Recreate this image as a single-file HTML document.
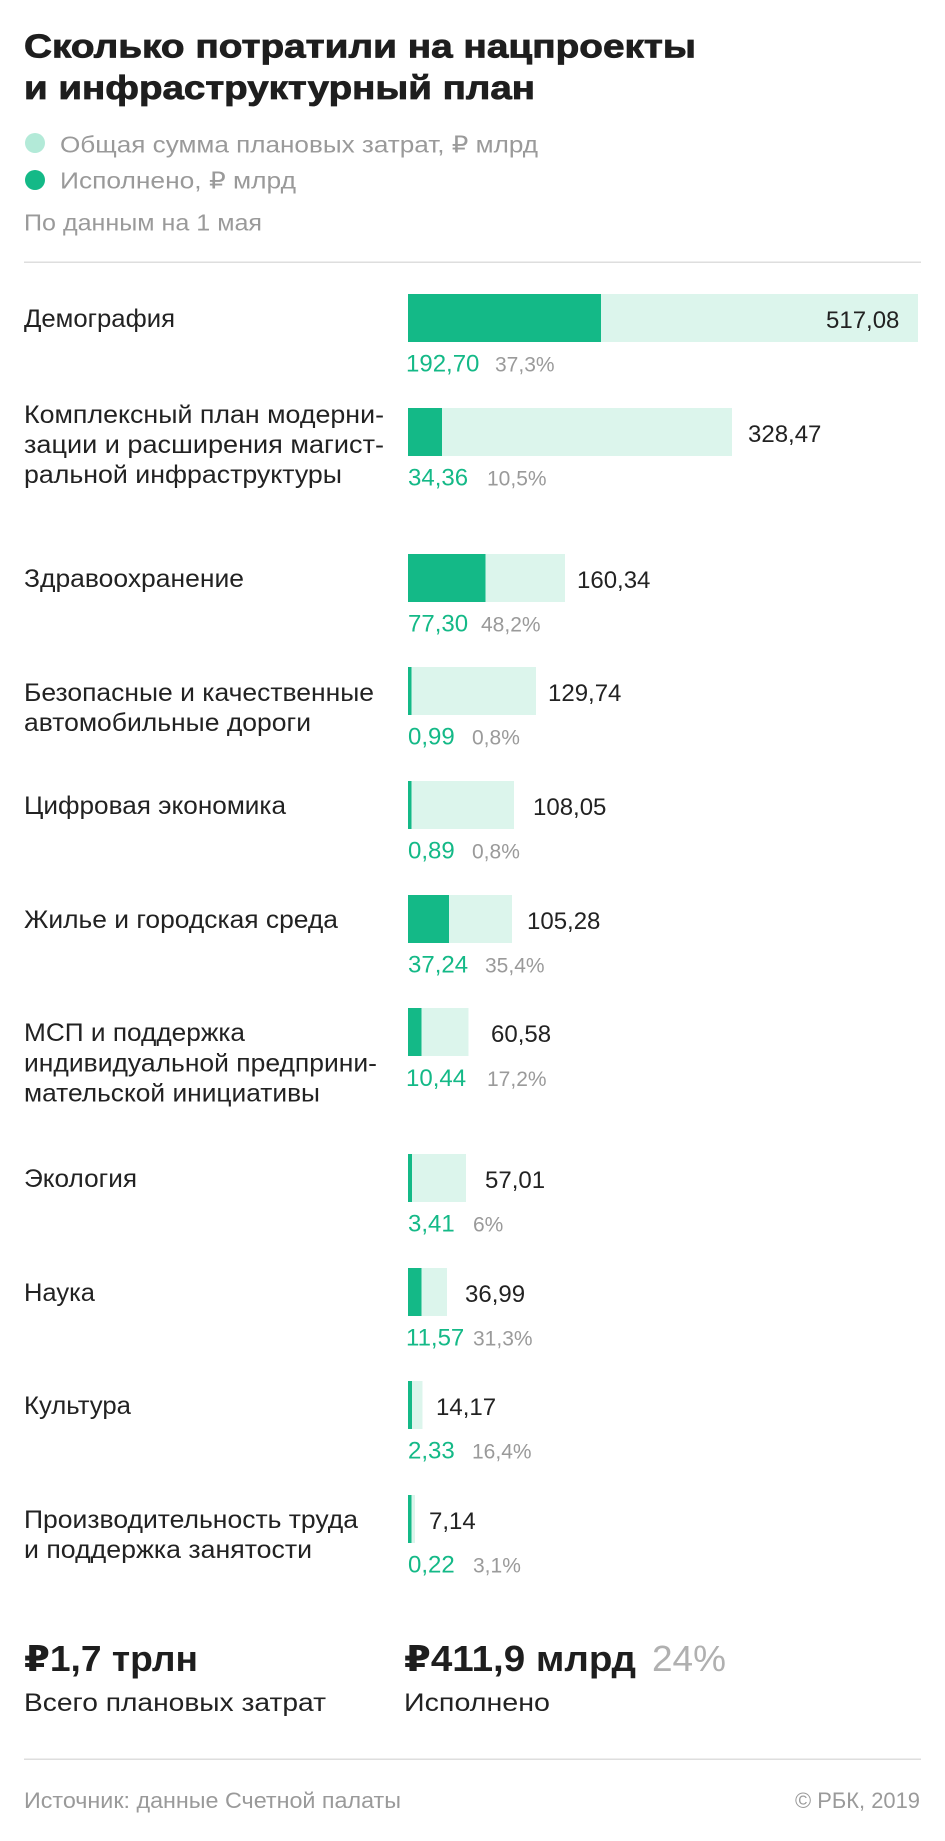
<!DOCTYPE html>
<html><head><meta charset="utf-8"><style>
html,body{margin:0;padding:0;background:#fff;}
svg{display:block;}
text{font-family:"Liberation Sans","DejaVu Sans",sans-serif;}
.t{font-size:33px;font-weight:bold;fill:#1e1e1e;stroke:#1e1e1e;stroke-width:0.8px;}
.lg{font-size:23px;fill:#9a9a9a;}
.lb{font-size:25px;fill:#222;}
.v{font-size:24px;fill:#222;}
.g{font-size:24px;fill:#14b987;}
.p{font-size:21px;fill:#9a9a9a;}
.b{font-size:36px;font-weight:bold;fill:#1e1e1e;}
.pc{font-size:36px;fill:#b0b0b0;}
.s{font-size:25px;fill:#222;}
.f{font-size:22px;fill:#9a9a9a;}
</style></head><body>
<svg width="945" height="1841" viewBox="0 0 945 1841" xmlns="http://www.w3.org/2000/svg">
<rect width="945" height="1841" fill="#fff"/>
<text class="t" x="24" y="57.5" textLength="672" lengthAdjust="spacingAndGlyphs">Сколько потратили на нацпроекты</text>
<text class="t" x="24" y="99" textLength="511" lengthAdjust="spacingAndGlyphs">и инфраструктурный план</text>
<circle cx="35" cy="143" r="10" fill="#b3ead8"/>
<text class="lg" x="60" y="152.5" textLength="478" lengthAdjust="spacingAndGlyphs">Общая сумма плановых затрат, ₽ млрд</text>
<circle cx="35" cy="180" r="10" fill="#14b987"/>
<text class="lg" x="60" y="188.5" textLength="236" lengthAdjust="spacingAndGlyphs">Исполнено, ₽ млрд</text>
<text class="lg" x="24" y="230.5" textLength="238" lengthAdjust="spacingAndGlyphs">По данным на 1 мая</text>
<rect x="24" y="261.5" width="897" height="1.5" fill="#dedede"/>

<!-- bars -->
<g fill="#dcf5ec">
<rect x="408" y="294" width="510" height="48"/>
<rect x="408" y="408" width="324" height="48"/>
<rect x="408" y="554" width="157" height="48"/>
<rect x="408" y="667" width="128" height="48"/>
<rect x="408" y="781" width="106" height="48"/>
<rect x="408" y="895" width="104" height="48"/>
<rect x="408" y="1008" width="60.5" height="48"/>
<rect x="408" y="1154" width="58" height="48"/>
<rect x="408" y="1268" width="39" height="48"/>
<rect x="408" y="1381" width="14.5" height="48"/>
<rect x="408" y="1495" width="7" height="48"/>
</g>
<g fill="#14b987">
<rect x="408" y="294" width="193" height="48"/>
<rect x="408" y="408" width="34" height="48"/>
<rect x="408" y="554" width="77.5" height="48"/>
<rect x="408" y="667" width="3.5" height="48"/>
<rect x="408" y="781" width="3.5" height="48"/>
<rect x="408" y="895" width="41" height="48"/>
<rect x="408" y="1008" width="13.5" height="48"/>
<rect x="408" y="1154" width="4" height="48"/>
<rect x="408" y="1268" width="13.5" height="48"/>
<rect x="408" y="1381" width="4" height="48"/>
<rect x="408" y="1495" width="3.5" height="48"/>
</g>

<!-- labels -->
<text class="lb" x="24" y="327" textLength="151" lengthAdjust="spacingAndGlyphs">Демография</text>
<text class="lb" x="24" y="423" textLength="360" lengthAdjust="spacingAndGlyphs">Комплексный план модерни-</text>
<text class="lb" x="24" y="453" textLength="360" lengthAdjust="spacingAndGlyphs">зации и расширения магист-</text>
<text class="lb" x="24" y="483" textLength="318" lengthAdjust="spacingAndGlyphs">ральной инфраструктуры</text>
<text class="lb" x="24" y="587" textLength="220" lengthAdjust="spacingAndGlyphs">Здравоохранение</text>
<text class="lb" x="24" y="701" textLength="350" lengthAdjust="spacingAndGlyphs">Безопасные и качественные</text>
<text class="lb" x="24" y="731" textLength="287" lengthAdjust="spacingAndGlyphs">автомобильные дороги</text>
<text class="lb" x="24" y="814" textLength="262" lengthAdjust="spacingAndGlyphs">Цифровая экономика</text>
<text class="lb" x="24" y="928" textLength="314" lengthAdjust="spacingAndGlyphs">Жилье и городская среда</text>
<text class="lb" x="24" y="1041" textLength="221" lengthAdjust="spacingAndGlyphs">МСП и поддержка</text>
<text class="lb" x="24" y="1071.5" textLength="353" lengthAdjust="spacingAndGlyphs">индивидуальной предприни-</text>
<text class="lb" x="24" y="1101.5" textLength="296" lengthAdjust="spacingAndGlyphs">мательской инициативы</text>
<text class="lb" x="24" y="1187" textLength="113" lengthAdjust="spacingAndGlyphs">Экология</text>
<text class="lb" x="24" y="1301" textLength="71" lengthAdjust="spacingAndGlyphs">Наука</text>
<text class="lb" x="24" y="1414" textLength="107" lengthAdjust="spacingAndGlyphs">Культура</text>
<text class="lb" x="24" y="1528" textLength="334" lengthAdjust="spacingAndGlyphs">Производительность труда</text>
<text class="lb" x="24" y="1558" textLength="288" lengthAdjust="spacingAndGlyphs">и поддержка занятости</text>

<!-- totals -->
<text class="v" x="826" y="328">517,08</text>
<text class="v" x="748" y="442">328,47</text>
<text class="v" x="577" y="588">160,34</text>
<text class="v" x="548" y="701">129,74</text>
<text class="v" x="533" y="815">108,05</text>
<text class="v" x="527" y="929">105,28</text>
<text class="v" x="491" y="1042">60,58</text>
<text class="v" x="485" y="1188">57,01</text>
<text class="v" x="465" y="1302">36,99</text>
<text class="v" x="436" y="1415">14,17</text>
<text class="v" x="429" y="1529">7,14</text>

<!-- executed -->
<text class="g" x="406" y="371.5">192,70</text><text class="p" x="495" y="371.5">37,3%</text>
<text class="g" x="408" y="485.5">34,36</text><text class="p" x="487" y="485.5">10,5%</text>
<text class="g" x="408" y="631.5">77,30</text><text class="p" x="481" y="631.5">48,2%</text>
<text class="g" x="408" y="744.5">0,99</text><text class="p" x="472" y="744.5">0,8%</text>
<text class="g" x="408" y="858.5">0,89</text><text class="p" x="472" y="858.5">0,8%</text>
<text class="g" x="408" y="972.5">37,24</text><text class="p" x="485" y="972.5">35,4%</text>
<text class="g" x="406" y="1086">10,44</text><text class="p" x="487" y="1086">17,2%</text>
<text class="g" x="408" y="1231.5">3,41</text><text class="p" x="473" y="1231.5">6%</text>
<text class="g" x="406" y="1345.5">11,57</text><text class="p" x="473" y="1345.5">31,3%</text>
<text class="g" x="408" y="1458.5">2,33</text><text class="p" x="472" y="1458.5">16,4%</text>
<text class="g" x="408" y="1572.5">0,22</text><text class="p" x="473" y="1572.5">3,1%</text>

<!-- summary -->
<text class="b" x="24" y="1671" textLength="174" lengthAdjust="spacingAndGlyphs">₽1,7 трлн</text>
<text class="b" x="404" y="1671" textLength="232" lengthAdjust="spacingAndGlyphs">₽411,9 млрд</text>
<text class="pc" x="652" y="1671" textLength="74" lengthAdjust="spacingAndGlyphs">24%</text>
<text class="s" x="24" y="1711" textLength="302" lengthAdjust="spacingAndGlyphs">Всего плановых затрат</text>
<text class="s" x="404" y="1711" textLength="146" lengthAdjust="spacingAndGlyphs">Исполнено</text>
<rect x="24" y="1758.5" width="897" height="1.5" fill="#dedede"/>
<text class="f" x="24" y="1808" textLength="377" lengthAdjust="spacingAndGlyphs">Источник: данные Счетной палаты</text>
<text class="f" x="795" y="1808" textLength="125" lengthAdjust="spacingAndGlyphs">© РБК, 2019</text>
</svg>
</body></html>
